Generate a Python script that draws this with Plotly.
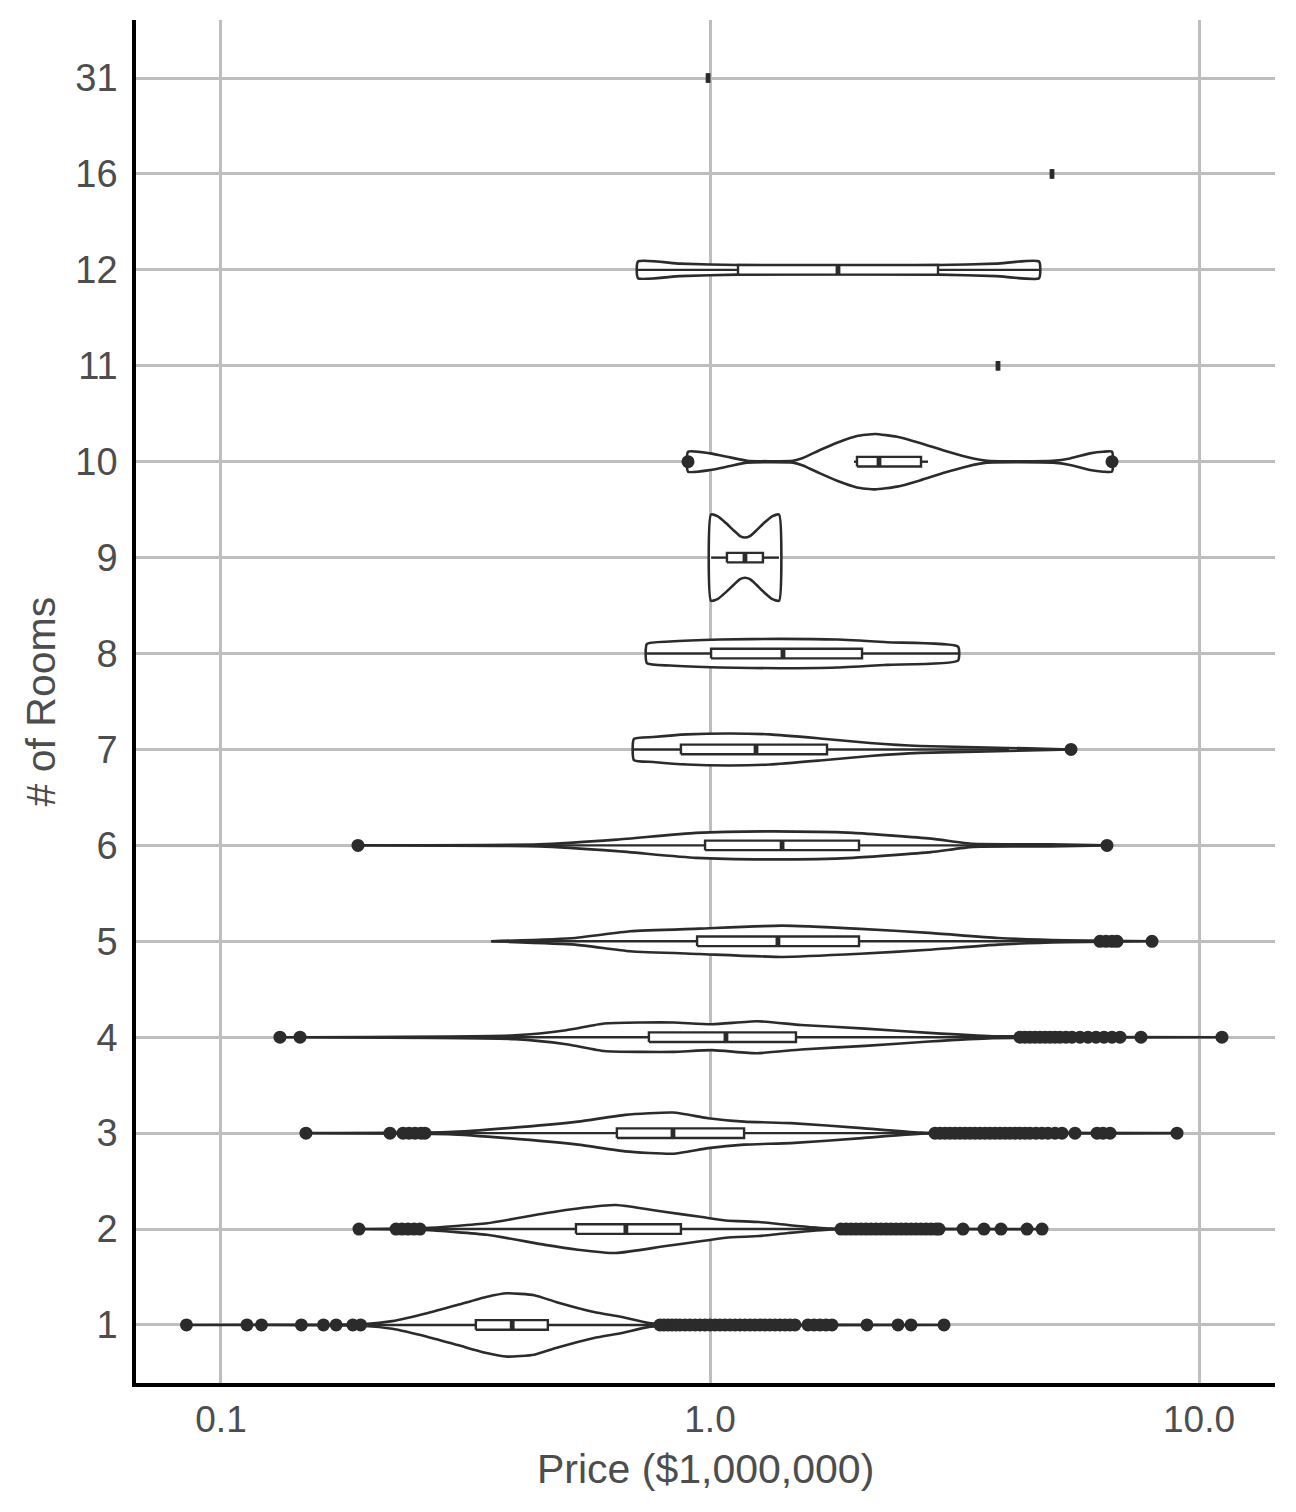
import plotly.graph_objects as go

# ---------------- data (prices in $1,000,000) ----------------
rooms = ["1", "2", "3", "4", "5", "6", "7", "8", "9", "10", "11", "12", "16", "31"]

# box statistics per category (same order as rooms)
box_q1 = [0.332, 0.532, 0.645, 0.750, 0.941, 0.977, 0.872, 1.005, 1.083, 1.998, 3.881, 1.141, 5.005, 0.991]
box_median = [0.394, 0.673, 0.840, 1.078, 1.377, 1.404, 1.242, 1.410, 1.179, 2.216, 3.881, 1.827, 5.005, 0.991]
box_q3 = [0.466, 0.872, 1.174, 1.499, 2.017, 2.017, 1.735, 2.046, 1.283, 2.701, 3.881, 2.926, 5.005, 0.991]
whisker_lo = [0.200, 0.260, 0.268, 0.270, 0.357, 0.449, 0.699, 0.743, 1.005, 1.970, 3.881, 0.7125, 5.005, 0.991]
whisker_hi = [0.770, 1.810, 2.818, 4.185, 5.986, 5.846, 4.087, 3.215, 1.384, 2.791, 3.881, 4.708, 5.005, 0.991]

# outliers per category
out_1 = [0.085, 0.113, 0.121, 0.146, 0.162, 0.172, 0.186, 0.193,
         0.790, 0.805, 0.821, 0.836, 0.852, 0.868, 0.889, 0.910, 0.932, 0.954, 0.977, 1.0,
         1.024, 1.048, 1.073, 1.099, 1.125, 1.152, 1.179, 1.207, 1.236, 1.265, 1.296, 1.326,
         1.358, 1.390, 1.424, 1.457, 1.492, 1.586, 1.632, 1.679, 1.727, 1.776,
         2.094, 2.424, 2.577, 3.010]
out_2 = [0.1915, 0.228, 0.2345, 0.2412, 0.2481, 0.2552,
         1.853, 1.897, 1.943, 1.989, 2.036, 2.085, 2.134, 2.185, 2.237, 2.291, 2.345, 2.401,
         2.458, 2.517, 2.577, 2.638, 2.701, 2.765, 2.831, 2.899, 2.940,
         3.291, 3.633, 3.936, 4.449, 4.775]
out_3 = [0.1492, 0.2216, 0.2356, 0.2424, 0.2493, 0.2565, 0.2613,
         2.885, 2.954, 3.024, 3.096, 3.170, 3.245, 3.322, 3.402, 3.483, 3.566, 3.651, 3.738,
         3.827, 3.918, 4.011, 4.106, 4.204, 4.304, 4.407, 4.512, 4.641, 4.775, 4.911, 5.076,
         5.246, 5.577, 6.187, 6.364, 6.577, 9.016]
out_4 = [0.132, 0.1451, 4.304, 4.407, 4.512, 4.620, 4.730, 4.843, 4.958, 5.076, 5.197, 5.346,
         5.499, 5.710, 5.929, 6.157, 6.394, 6.639, 6.894, 7.610, 11.14]
out_5 = [6.274, 6.454, 6.639, 6.797, 8.015]
out_6 = [0.1906, 6.484]
out_7 = [5.473]
out_10 = [0.9016, 6.639]

# violin outlines: price grid and half-width (in category units)
v1_price = [0.085, 0.197, 0.224, 0.265, 0.305, 0.347, 0.385, 0.437, 0.484, 0.579, 0.661, 0.750, 0.954, 3.010]
v1_width = [0, 0.01, 0.04, 0.125, 0.21, 0.29, 0.33, 0.31, 0.24, 0.135, 0.083, 0.02, 0.005, 0]
v2_price = [0.1915, 0.261, 0.350, 0.460, 0.537, 0.642, 0.805, 0.963, 1.078, 1.260, 1.444, 1.768, 4.775]
v2_width = [0, 0.01, 0.06, 0.165, 0.215, 0.25, 0.18, 0.125, 0.09, 0.073, 0.042, 0.005, 0]
v3_price = [0.1492, 0.291, 0.385, 0.537, 0.670, 0.840, 0.991, 1.174, 1.464, 2.046, 2.701, 9.016]
v3_width = [0, 0.01, 0.052, 0.12, 0.19, 0.215, 0.156, 0.12, 0.104, 0.052, 0.005, 0]
v4_price = [0.132, 0.399, 0.508, 0.607, 0.726, 0.844, 1.009, 1.248, 1.535, 2.075, 2.805, 3.791, 11.14]
v4_width = [0, 0.02, 0.073, 0.143, 0.153, 0.153, 0.135, 0.167, 0.128, 0.09, 0.045, 0.01, 0]
v5_price = [0.357, 0.530, 0.686, 0.950, 1.404, 2.027, 2.805, 3.881, 5.346, 8.015]
v5_width = [0, 0.035, 0.104, 0.132, 0.163, 0.13, 0.088, 0.035, 0.01, 0]
v6_price = [0.1906, 0.447, 0.645, 0.936, 1.352, 1.961, 2.831, 3.450, 4.958, 6.484]
v6_width = [0, 0.01, 0.06, 0.13, 0.146, 0.13, 0.07, 0.016, 0.012, 0]
v7_price = [0.699, 0.765, 0.897, 1.099, 1.326, 1.679, 2.124, 2.688, 3.685, 5.473]
v7_width = [0.11, 0.13, 0.157, 0.167, 0.157, 0.115, 0.068, 0.036, 0.021, 0]
v8_price = [0.743, 0.828, 1.048, 1.390, 1.819, 2.301, 3.215]
v8_width = [0.10, 0.125, 0.146, 0.153, 0.146, 0.118, 0.073]
v9_price = [1.005, 1.038, 1.078, 1.120, 1.152, 1.179, 1.207, 1.242, 1.289, 1.339, 1.384]
v9_width = [0.45, 0.43, 0.36, 0.28, 0.225, 0.21, 0.225, 0.28, 0.36, 0.43, 0.45]
v10_price = [0.902, 1.0, 1.099, 1.190, 1.478, 1.549, 1.679, 1.819, 1.998, 2.175, 2.412, 2.688,
             2.996, 3.354, 3.685, 5.029, 5.448, 5.986, 6.364, 6.639]
v10_width = [0.104, 0.087, 0.045, 0.01, 0.01, 0.039, 0.122, 0.198, 0.268, 0.289, 0.26, 0.195,
             0.119, 0.049, 0.01, 0.01, 0.034, 0.087, 0.104, 0.104]
v12_price = [0.7125, 0.868, 1.141, 1.827, 2.926, 3.845, 4.708]
v12_width = [0.087, 0.065, 0.05, 0.042, 0.05, 0.065, 0.087]

# ---------------- figure ----------------
DARK = "#2b2b2b"
GRID = "#bebebe"
TXT = "#4d4d4d"
FONT = "Liberation Sans, Arial, Helvetica, sans-serif"
BOX_HALF = 0.05

violins = [("1", v1_price, v1_width), ("2", v2_price, v2_width), ("3", v3_price, v3_width),
           ("4", v4_price, v4_width), ("5", v5_price, v5_width), ("6", v6_price, v6_width),
           ("7", v7_price, v7_width), ("8", v8_price, v8_width), ("9", v9_price, v9_width),
           ("10", v10_price, v10_width), ("12", v12_price, v12_width)]
outliers = [("1", out_1), ("2", out_2), ("3", out_3), ("4", out_4), ("5", out_5),
            ("6", out_6), ("7", out_7), ("10", out_10)]

fig = go.Figure()

# violins
for cat, px_, w_ in violins:
    pos = rooms.index(cat)
    xs = list(px_) + list(reversed(px_)) + [px_[0]]
    ys = [pos + w for w in w_] + [pos - w for w in reversed(w_)] + [pos + w_[0]]
    fig.add_trace(go.Scatter(x=xs, y=ys, mode="lines", fill="toself", fillcolor="white",
                             line=dict(color=DARK, width=2.6, shape="spline", smoothing=0.5),
                             hoverinfo="skip", showlegend=False))

# whiskers
wx, wy = [], []
for i in range(len(rooms)):
    wx += [whisker_lo[i], box_q1[i], None, box_q3[i], whisker_hi[i], None]
    wy += [i, i, None, i, i, None]
fig.add_trace(go.Scatter(x=wx, y=wy, mode="lines", line=dict(color=DARK, width=2.4),
                         hoverinfo="skip", showlegend=False))

# boxes
for i in range(len(rooms)):
    bx = [box_q1[i], box_q3[i], box_q3[i], box_q1[i], box_q1[i]]
    by = [i - BOX_HALF, i - BOX_HALF, i + BOX_HALF, i + BOX_HALF, i - BOX_HALF]
    fig.add_trace(go.Scatter(x=bx, y=by, mode="lines", fill="toself", fillcolor="white",
                             line=dict(color=DARK, width=2.4), hoverinfo="skip", showlegend=False))

# medians
mx, my = [], []
for i in range(len(rooms)):
    mx += [box_median[i], box_median[i], None]
    my += [i - BOX_HALF, i + BOX_HALF, None]
fig.add_trace(go.Scatter(x=mx, y=my, mode="lines", line=dict(color=DARK, width=4.8),
                         hoverinfo="skip", showlegend=False))

# outliers
ox, oy = [], []
for cat, vals in outliers:
    pos = rooms.index(cat)
    ox += vals
    oy += [pos] * len(vals)
fig.add_trace(go.Scatter(x=ox, y=oy, mode="markers",
                         marker=dict(color=DARK, size=13, line=dict(width=0)),
                         showlegend=False))

axis_common = dict(showgrid=True, gridcolor=GRID, gridwidth=2.5, showline=True,
                   linecolor="black", linewidth=3.5, ticks="", zeroline=False)

fig.update_layout(
    width=1296, height=1512,
    margin=dict(l=136, r=21, t=20, b=129),
    plot_bgcolor="white", paper_bgcolor="white",
    showlegend=False,
    xaxis=dict(type="log", range=[-1.1738, 1.1554], tickvals=[0.1, 1, 10],
               ticktext=["0.1", "1.0", "10.0"], ticklabelstandoff=1,
               tickfont=dict(family=FONT, size=37, color=TXT), **axis_common),
    yaxis=dict(range=[-0.605, 13.605], tickvals=list(range(len(rooms))), ticktext=rooms,
               ticklabelstandoff=7, tickfont=dict(family=FONT, size=38, color=TXT),
               **axis_common),
    annotations=[
        dict(text="Price ($1,000,000)", x=0.5, y=0, xref="paper", yref="paper",
             xanchor="center", yanchor="middle", yshift=-86, showarrow=False,
             font=dict(family=FONT, size=41, color=TXT)),
        dict(text="# of Rooms", x=0, y=0.5, xref="paper", yref="paper",
             xanchor="center", yanchor="middle", xshift=-96, textangle=-90, showarrow=False,
             font=dict(family=FONT, size=41, color=TXT)),
    ],
)

fig.write_html("out.html")
